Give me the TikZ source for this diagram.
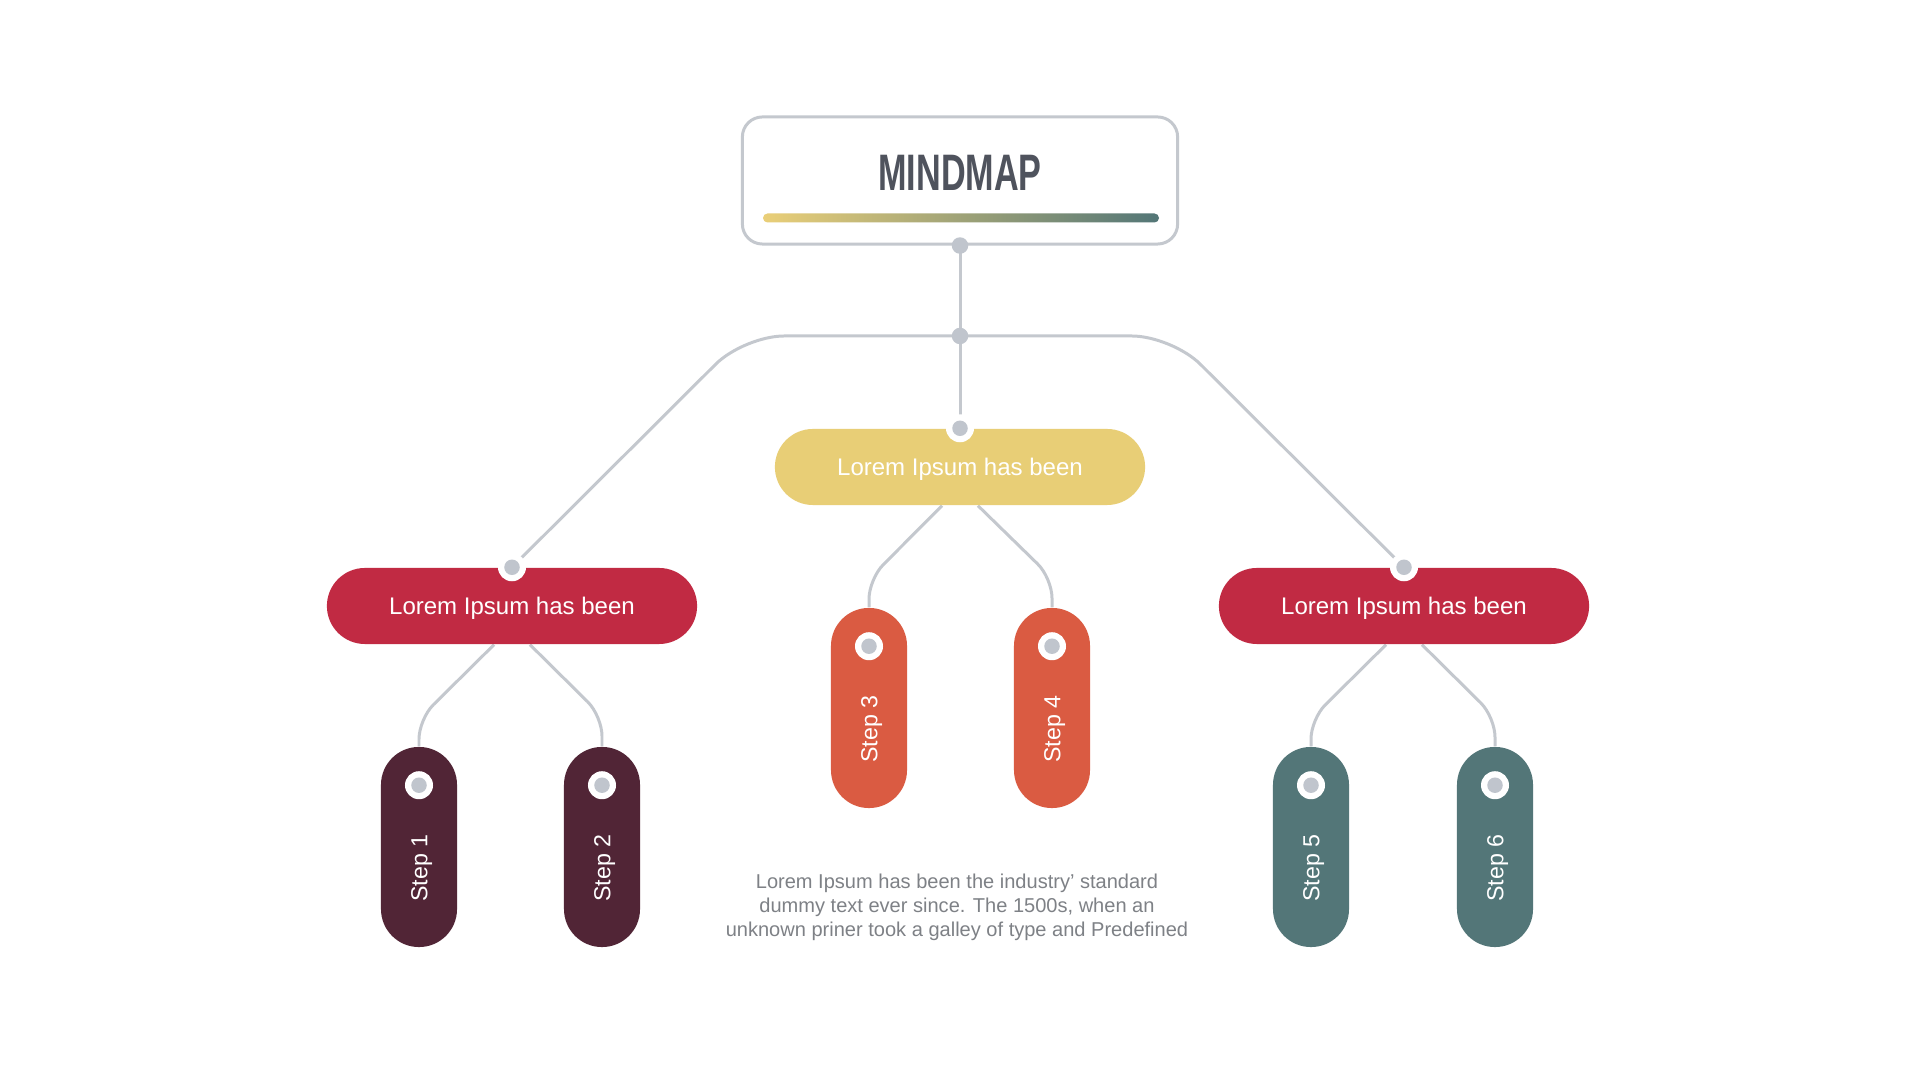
\documentclass[tikz,border=0pt]{standalone}
\usepackage{fontspec}
\setmainfont{Liberation Sans}
\usetikzlibrary{calc,backgrounds}
\definecolor{linec}{HTML}{C4C8CE}
\definecolor{dotc}{HTML}{C0C5CD}
\definecolor{redc}{HTML}{C12A43}
\definecolor{yelc}{HTML}{E8CE76}
\definecolor{orac}{HTML}{DA5B42}
\definecolor{marc}{HTML}{512536}
\definecolor{teac}{HTML}{537678}
\definecolor{titc}{HTML}{4F535D}
\definecolor{descc}{HTML}{7E8186}
\definecolor{gradl}{HTML}{EACF78}
\definecolor{gradr}{HTML}{537677}
\begin{document}
\begin{tikzpicture}[x=0.01cm,y=-0.01cm,
  conn/.style={draw=linec, line width=0.85pt},
  titlebox/.style={draw=linec, line width=0.85pt, fill=white, rounded corners=0.2cm, minimum width=4.35cm, minimum height=1.27cm, inner sep=0pt},
  bignode/.style={rounded corners=0.38cm, minimum width=3.7cm, minimum height=0.76cm, inner sep=0pt, text=white, font=\fontsize{6.83}{8}\selectfont, text height=0.17cm, text depth=0pt},
  pill/.style={rounded corners=0.379cm, minimum width=0.76cm, minimum height=2cm, inner sep=0pt},
  steptext/.style={rotate=90, text=white, font=\fontsize{6.6}{8}\selectfont, text height=0.165cm, text depth=0pt, inner sep=0pt},
  ringw/.style={circle, fill=white, minimum size=0.28cm, inner sep=0pt},
  ringg/.style={circle, fill=dotc, minimum size=0.155cm, inner sep=0pt},
  dotn/.style={circle, fill=dotc, minimum size=0.165cm, inner sep=0pt}
]
\useasboundingbox (0,0) rectangle (1920,1080);

% title
\node[titlebox] (title) at (960,180.5) {};
\node[text=titc, inner sep=0pt, text height=0.36cm, text depth=0pt] (ttext) at (960,173)
  {\scalebox{0.68}[1.02]{\fontsize{14.3}{16}\selectfont\bfseries MINDMAP}};
\shade[left color=gradl, right color=gradr, rounded corners=0.045cm] (763,213.5) rectangle (1159,222.5);

% main nodes
\node[bignode, fill=yelc] (cnode) at (960,467) {Lorem Ipsum has been};
\node[bignode, fill=redc] (lnode) at (512,606) {Lorem Ipsum has been};
\node[bignode, fill=redc] (rnode) at (1404,606) {Lorem Ipsum has been};

% steps
\node[pill, fill=marc] (s1) at (419,847) {};
\node[pill, fill=marc] (s2) at (602,847) {};
\node[pill, fill=orac] (s3) at (869,708) {};
\node[pill, fill=orac] (s4) at (1052,708) {};
\node[pill, fill=teac] (s5) at (1311,847) {};
\node[pill, fill=teac] (s6) at (1495,847) {};

\foreach \s/\t in {s1/Step 1, s2/Step 2, s3/Step 3, s4/Step 4, s5/Step 5, s6/Step 6}{
  \node[steptext] (\s txt) at ($(\s.center)+(0,21)$) {\t};
  \node[ringw] (\s rw) at ($(\s.north)+(0,39)$) {};
  \node[ringg] (\s rg) at (\s rw) {};
}

% dots
\node[dotn] (tdot) at (title.south) {};
\node[dotn] (junction) at (960,336) {};
\foreach \n in {cnode,lnode,rnode}{
  \node[ringw] (\n rw) at (\n.north) {};
  \node[ringg] (\n rg) at (\n.north) {};
}

% description
\node[text=descc, align=center, inner sep=0pt, font=\fontsize{5.7}{6.83}\selectfont] (desc) at (957,907)
  {Lorem Ipsum has been the industry' standard\\dummy text ever since. The 1500s, when an\\unknown priner took a galley of type and Predefined};

% connectors
\coordinate (lcorner) at (744,336);
\coordinate (rcorner) at (1172,336);
\coordinate (c1) at (419,719);
\coordinate (c2) at (602,716);
\coordinate (c3) at (869,579);
\coordinate (c4) at (1052,578);
\coordinate (c5) at (1311,719);
\coordinate (c6) at (1495,717);
\begin{pgfonlayer}{background}
\fill[white] (0,0) rectangle (1920,1080);
\draw[conn] (tdot.center) -- (junction.center);
\draw[conn] (junction.center) -- (cnode.north);
\draw[conn, rounded corners=0.4cm] (junction.center) -- (lcorner) -- (lnode.north);
\draw[conn, rounded corners=0.4cm] (junction.center) -- (rcorner) -- (rnode.north);
\draw[conn, rounded corners=0.2cm] ($(lnode.south)+(-18,0)$) -- (c1) -- (s1.north);
\draw[conn, rounded corners=0.2cm] ($(lnode.south)+(18,0)$) -- (c2) -- (s2.north);
\draw[conn, rounded corners=0.2cm] ($(cnode.south)+(-18,0)$) -- (c3) -- (s3.north);
\draw[conn, rounded corners=0.2cm] ($(cnode.south)+(18,0)$) -- (c4) -- (s4.north);
\draw[conn, rounded corners=0.2cm] ($(rnode.south)+(-18,0)$) -- (c5) -- (s5.north);
\draw[conn, rounded corners=0.2cm] ($(rnode.south)+(18,0)$) -- (c6) -- (s6.north);
\end{pgfonlayer}
\end{tikzpicture}
\end{document}
